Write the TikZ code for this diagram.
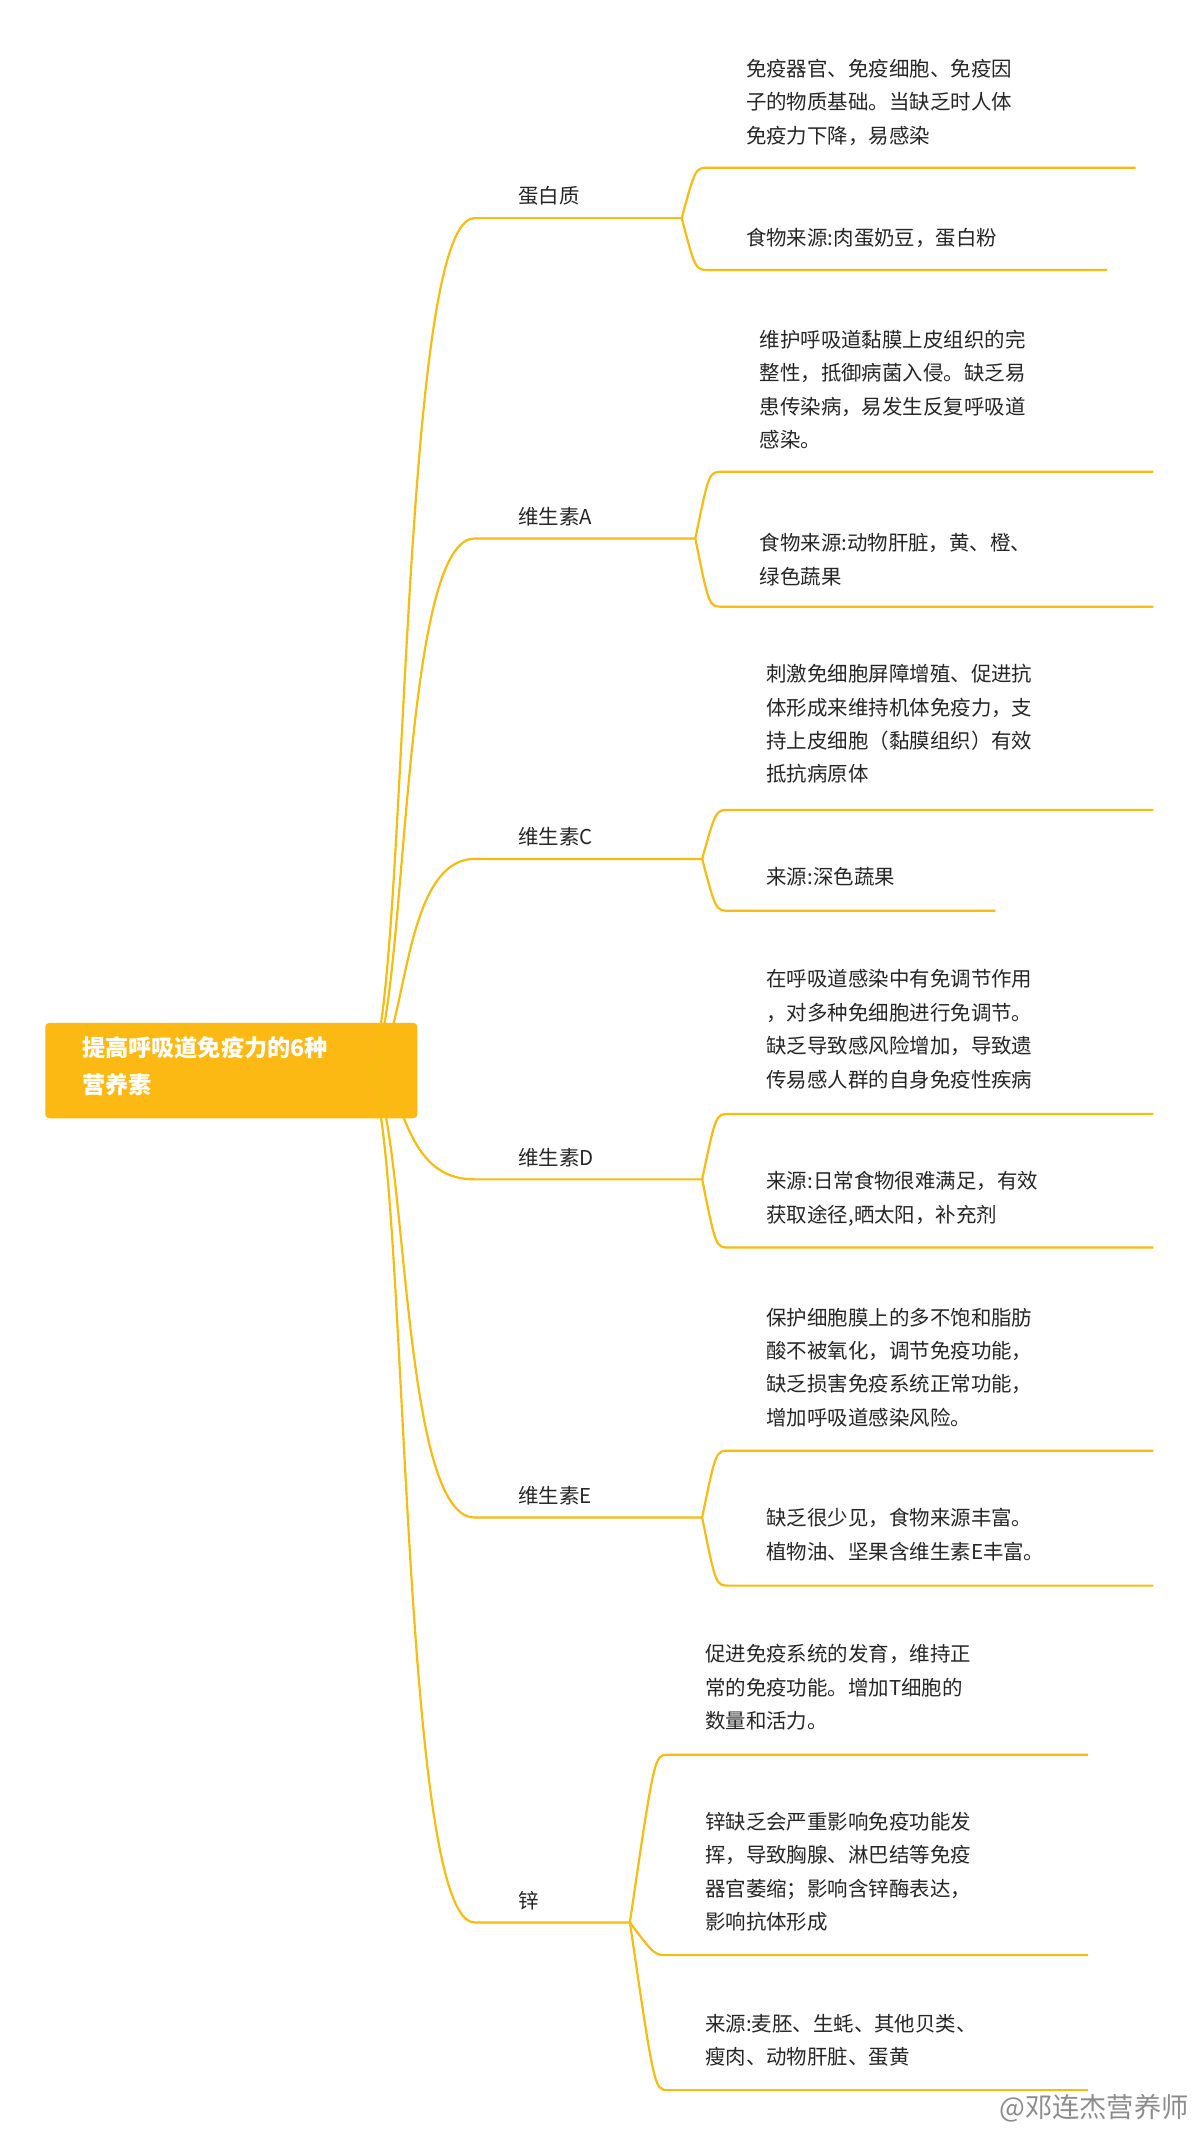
\documentclass[tikz,border=0pt]{standalone}
\usepackage{fontspec}
\newfontfamily\cjk{Noto Sans CJK SC}
\definecolor{org}{HTML}{F7BC0F}
\definecolor{rootc}{HTML}{FDB913}
\begin{document}
\begin{tikzpicture}[x=1pt,y=-1pt,
  ln/.style={draw=org,line width=1.6pt},
  txt/.style={anchor=north west,inner sep=0pt,align=left,font=\cjk\fontsize{15}{24.5}\selectfont,text=black!85},
  lbl/.style={anchor=south west,inner sep=0pt,font=\cjk\fontsize{15}{18}\selectfont,text=black!85}]
\useasboundingbox[fill=white] (0,0) rectangle (876,1563);
\node[fill=rootc,rounded corners=3pt,minimum width=273,minimum height=70,anchor=north west] (root) at (33,750) {};
\node[anchor=north west,inner sep=0,align=left,text=white,font=\cjk\bfseries\fontsize{17}{27}\selectfont] (roott) at (60,760) {提高呼吸道免疫力的6种\\营养素};
\coordinate (r0) at (268,785);
% macro-free: children
\foreach \n/\t/\y/\e in {p/蛋白质/160/500, a/维生素A/395/510, c/维生素C/630/515, d/维生素D/865/515, e/维生素E/1113/515, z/锌/1410/462}{
  \coordinate (\n s) at (348,\y);
  \coordinate (\n e) at (\e,\y);
  \node[lbl] (\n l) at (380,\y-9) {\t};
  \draw[ln] (r0) .. controls (300,785) and (290,\y) .. (\n s) -- (\n e);
}
% leaves: parent/name/line y/x start/x end/text top/text
\foreach \p/\n/\y/\xs/\xe/\ty/\tx in {
 p/p1/123/520/833/43/{免疫器官、免疫细胞、免疫因\\子的物质基础。当缺乏时人体\\免疫力下降，易感染},
 p/p2/198/520/812/167/{食物来源:肉蛋奶豆，蛋白粉},
 a/a1/346/530/846/242/{维护呼吸道黏膜上皮组织的完\\整性，抵御病菌入侵。缺乏易\\患传染病，易发生反复呼吸道\\感染。},
 a/a2/445/530/846/391/{食物来源:动物肝脏，黄、橙、\\绿色蔬果},
 c/c1/594/535/846/487/{刺激免细胞屏障增殖、促进抗\\体形成来维持机体免疫力，支\\持上皮细胞（黏膜组织）有效\\抵抗病原体},
 c/c2/668/535/730/636/{来源:深色蔬果},
 d/d1/817/535/846/711/{在呼吸道感染中有免调节作用\\，对多种免细胞进行免调节。\\缺乏导致感风险增加，导致遗\\传易感人群的自身免疫性疾病},
 d/d2/915/535/846/859/{来源:日常食物很难满足，有效\\获取途径,晒太阳，补充剂},
 e/e1/1064/535/846/959/{保护细胞膜上的多不饱和脂肪\\酸不被氧化，调节免疫功能，\\缺乏损害免疫系统正常功能，\\增加呼吸道感染风险。},
 e/e2/1163/535/846/1106/{缺乏很少见，食物来源丰富。\\植物油、坚果含维生素E丰富。},
 z/z1/1287/490/798/1206/{促进免疫系统的发育，维持正\\常的免疫功能。增加T细胞的\\数量和活力。},
 z/z2/1434/490/798/1329/{锌缺乏会严重影响免疫功能发\\挥，导致胸腺、淋巴结等免疫\\器官萎缩；影响含锌酶表达，\\影响抗体形成},
 z/z3/1533/490/798/1477/{来源:麦胚、生蚝、其他贝类、\\瘦肉、动物肝脏、蛋黄}}{
  \coordinate (\n s) at (\xs,\y);
  \coordinate (\n x) at (\xe,\y);
  \node[txt] (\n t) at (\xs+27,\ty) {\tx};
  \draw[ln] (\p e) .. controls (\xs-10,\y) .. (\n s) -- (\n x);
}
\node[anchor=east,inner sep=0,text=black!45,font=\cjk\fontsize{20}{22}\selectfont] (wm) at (872,1546) {@邓连杰营养师};
\end{tikzpicture}
\end{document}
